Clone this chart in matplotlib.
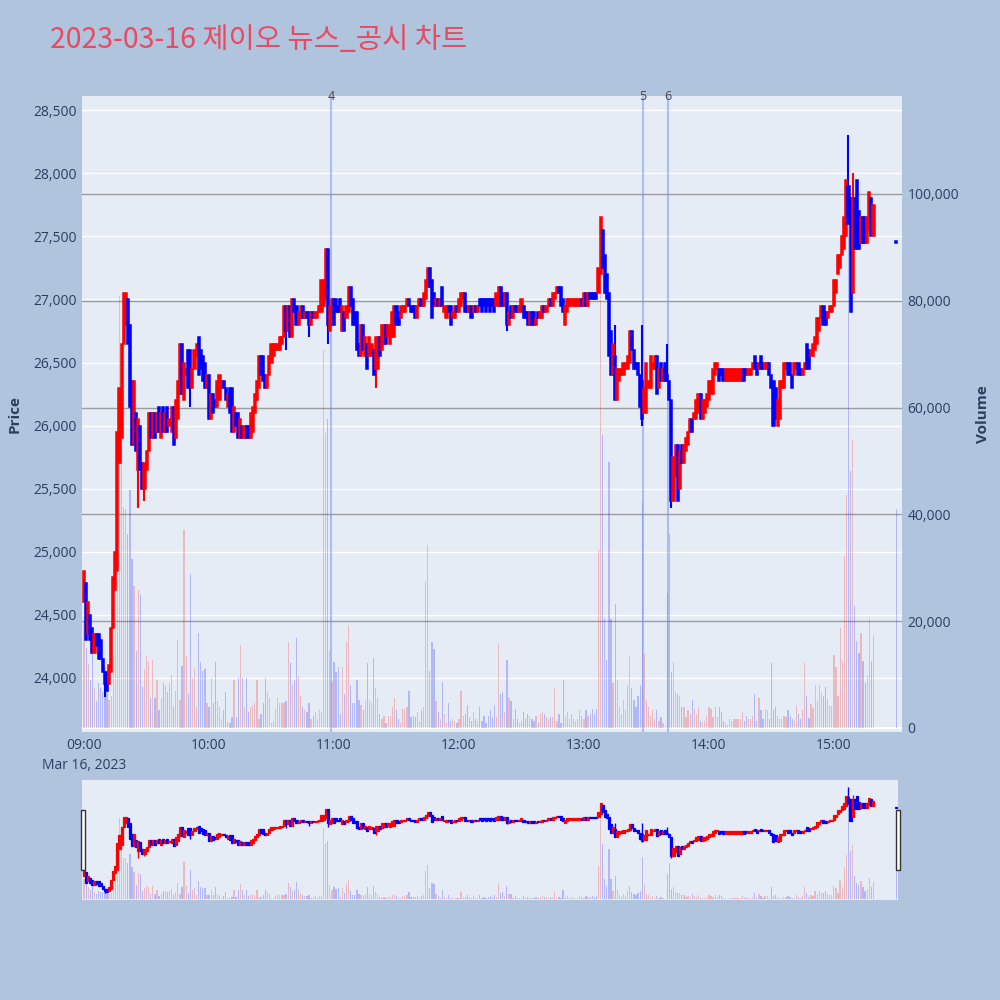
import matplotlib
matplotlib.use('Agg')
import matplotlib.pyplot as plt
import matplotlib.transforms as mtransforms
from matplotlib.patches import Rectangle
import numpy as np

plt.rcParams['font.family'] = ['Open Sans', 'DejaVu Sans']

# ---------------- data (1-minute candles, 09:00 -> 15:19) ----------------
opens = [
    24600, 24750, 24350, 24500, 24400, 24200, 24350, 24350, 24300, 24150,
    24050, 24050, 23950, 24050, 24400, 24700, 24850, 25700, 25900, 26650,
    26800, 27000, 26800, 26350, 25850, 26100, 25650, 26000, 25700, 25500,
    25650, 25800, 26100, 25900, 26100, 25950, 26150, 25900, 26150, 25950,
    26150, 26000, 25950, 26150, 25900, 26050, 26250, 26650, 26200, 26400,
    26600, 26600, 26300, 26450, 26550, 26700, 26600, 26550, 26500, 26300,
    26400, 26050, 26250, 26200, 26150, 26200, 26300, 26350, 26300, 26150,
    26300, 26300, 25950, 26100, 26100, 25900, 26000, 25900, 26000, 26000,
    25900, 25950, 26100, 26200, 26300, 26550, 26550, 26400, 26300, 26400,
    26500, 26550, 26600, 26600, 26600, 26650, 26700, 26950, 26750, 26950,
    26700, 27000, 26950, 26800, 26850, 26950, 26850, 26900, 26900, 26800,
    26900, 26850, 26850, 26900, 26900, 26950, 27000, 27400, 26750, 26800,
    27000, 27000, 26950, 27000, 26750, 26900, 26850, 26900, 27100, 27000,
    26900, 26900, 26650, 26550, 26800, 26550, 26650, 26550, 26550, 26600,
    26450, 26450, 26700, 26600, 26650, 26800, 26700, 26650, 26700, 26700,
    26950, 26900, 26850, 26900, 26900, 26950, 27000, 26950, 26950, 26950,
    26850, 26950, 27000, 26950, 27000, 27100, 27250, 27150, 27050, 26950,
    27000, 26950, 27100, 26900, 26850, 26950, 26950, 26850, 26850, 26950,
    26900, 26950, 27000, 27050, 26950, 26900, 26950, 26900, 26950, 26900,
    27000, 27000, 27000, 27000, 27000, 27000, 27000, 27000, 26950, 26950,
    27100, 27050, 26950, 27050, 26800, 26950, 26850, 26950, 26950, 26900,
    26900, 26950, 26900, 26900, 26800, 26900, 26900, 26800, 26900, 26850,
    26850, 26950, 26900, 26950, 27000, 26950, 27000, 27050, 27100, 27100,
    27000, 26800, 26900, 26950, 26950, 26950, 26950, 26950, 26950, 27000,
    26950, 27050, 26950, 27050, 27050, 27050, 27050, 27050, 27200, 27550,
    27350, 27200, 27050, 26750, 26400, 26550, 26200, 26350, 26400, 26400,
    26450, 26450, 26500, 26750, 26600, 26500, 26500, 26400, 26350, 26100,
    26100, 26300, 26300, 26450, 26450, 26550, 26300, 26500, 26350, 26500,
    26400, 26350, 26200, 25400, 25600, 25850, 25500, 25850, 25700, 25800,
    25850, 25950, 26050, 26050, 26050, 26100, 26250, 26050, 26100, 26150,
    26200, 26250, 26250, 26400, 26450, 26450, 26450, 26450, 26350, 26350,
    26350, 26350, 26350, 26350, 26350, 26350, 26350, 26450, 26450, 26400,
    26400, 26450, 26550, 26500, 26450, 26550, 26500, 26450, 26450, 26500,
    26400, 26350, 26300, 26000, 26050, 26300, 26300, 26450, 26500, 26500,
    26400, 26400, 26450, 26500, 26450, 26400, 26450, 26650, 26600, 26550,
    26550, 26600, 26650, 26750, 26850, 26950, 26900, 26850, 26900, 26900,
    26950, 27050, 27200, 27250, 27350, 27400, 27500, 27900, 27800, 27050,
    27800, 27950, 27700, 27450, 27650, 27650, 27450, 27550, 27800, 27500,
]
closes = [
    24850, 24300, 24600, 24300, 24200, 24350, 24250, 24150, 24150, 24050,
    23950, 23900, 24100, 24400, 24800, 25000, 25950, 26300, 26650, 27050,
    27050, 26650, 26150, 25850, 26350, 25800, 26050, 25650, 25500, 25700,
    25800, 26100, 25900, 26100, 25900, 26100, 25950, 26100, 25950, 26100,
    25950, 26050, 26150, 25850, 26200, 26350, 26650, 26250, 26500, 26450,
    26300, 26300, 26450, 26600, 26650, 26400, 26450, 26350, 26300, 26400,
    26050, 26250, 26100, 26150, 26350, 26400, 26350, 26300, 26200, 26250,
    26100, 25950, 26150, 26000, 25900, 26050, 25900, 26000, 25900, 25900,
    26100, 26150, 26250, 26350, 26550, 26400, 26350, 26300, 26400, 26550,
    26650, 26650, 26650, 26650, 26700, 26700, 26950, 26750, 26950, 26700,
    27000, 26900, 26800, 26900, 26950, 26850, 26900, 26850, 26800, 26900,
    26850, 26900, 26900, 26950, 27150, 27150, 27400, 26800, 26950, 27000,
    26800, 26900, 26900, 26900, 26950, 26750, 26950, 27100, 26950, 26800,
    26800, 26600, 26550, 26800, 26600, 26700, 26450, 26700, 26650, 26400,
    26700, 26700, 26550, 26800, 26800, 26650, 26800, 26800, 26900, 26950,
    26800, 26800, 26950, 26950, 26950, 27000, 26950, 26900, 26900, 26850,
    26950, 27000, 26950, 27050, 27150, 27250, 27100, 26850, 26950, 27000,
    26950, 27000, 26950, 26950, 26950, 26900, 26800, 26900, 26950, 26900,
    27000, 27050, 27050, 26900, 26900, 26950, 26850, 26950, 26900, 26950,
    26950, 26900, 26950, 26900, 26950, 26900, 26950, 26900, 27050, 27100,
    26950, 26950, 27050, 26800, 26900, 26850, 26950, 26900, 26900, 26950,
    27000, 26850, 26850, 26800, 26900, 26800, 26800, 26850, 26850, 26900,
    26950, 26900, 26950, 27000, 26950, 27050, 27050, 27100, 27050, 26950,
    26900, 26950, 27000, 27000, 27000, 27000, 27000, 27000, 27000, 26950,
    27050, 26950, 27050, 27000, 27000, 27000, 27000, 27250, 27650, 27250,
    27050, 27000, 26550, 26400, 26650, 26200, 26450, 26450, 26450, 26500,
    26500, 26550, 26750, 26600, 26450, 26450, 26400, 26150, 26050, 26300,
    26500, 26350, 26550, 26500, 26550, 26250, 26450, 26350, 26450, 26350,
    26350, 26200, 25400, 25750, 25850, 25400, 25800, 25700, 25850, 25900,
    25950, 26050, 25950, 26100, 26200, 26250, 26050, 26200, 26200, 26250,
    26350, 26350, 26450, 26500, 26500, 26350, 26400, 26350, 26450, 26450,
    26450, 26450, 26450, 26450, 26450, 26450, 26450, 26350, 26400, 26450,
    26450, 26500, 26450, 26400, 26500, 26450, 26450, 26500, 26500, 26400,
    26300, 26000, 26050, 26200, 26350, 26350, 26500, 26500, 26400, 26400,
    26300, 26500, 26500, 26400, 26400, 26450, 26500, 26450, 26450, 26600,
    26650, 26700, 26850, 26850, 26950, 26800, 26800, 26900, 26950, 26950,
    27150, 27150, 27350, 27350, 27500, 27650, 27950, 27600, 26900, 27800,
    27400, 27400, 27400, 27650, 27450, 27450, 27650, 27850, 27500, 27750,
]
volumes = [
    20000, 15000, 12000, 9000, 13800, 7400, 5000, 8400, 7400, 6700,
    11400, 8000, 5300, 6000, 13400, 28300, 54600, 80900, 52600, 41400,
    41100, 36400, 44500, 31600, 26600, 14400, 25900, 24900, 7700, 11100,
    13400, 12400, 5700, 12800, 5700, 9000, 3300, 5700, 8400, 8000,
    6700, 8400, 10000, 4000, 7000, 16500, 5300, 11700, 37000, 13400,
    6300, 28900, 9400, 11000, 4000, 17800, 12400, 10700, 11100, 4700,
    4000, 9400, 4700, 12400, 5000, 4000, 1600, 3300, 6700, 1300,
    1000, 2000, 9000, 2000, 9400, 15500, 9400, 4000, 9400, 3000,
    4000, 4300, 4700, 9000, 1600, 2600, 4700, 9400, 6700, 5700,
    1000, 1300, 3600, 5700, 4700, 4700, 4700, 5000, 16100, 12100,
    8000, 9000, 16800, 9700, 6000, 4000, 3300, 3000, 4700, 1600,
    2300, 3000, 1600, 3300, 3000, 70800, 55300, 57900, 14400, 8700,
    12400, 10400, 11400, 2600, 11400, 6300, 16100, 19200, 8000, 4700,
    4700, 9000, 5300, 4300, 3300, 5000, 12100, 5300, 4700, 13100,
    7400, 5700, 2600, 1600, 2300, 1000, 2300, 2300, 4000, 5700,
    3300, 1600, 1000, 3600, 3600, 4000, 7000, 2000, 2300, 2000,
    3000, 1300, 3300, 4000, 27600, 34300, 10700, 16100, 14800, 5000,
    3000, 1600, 8700, 2600, 1000, 4700, 1300, 1600, 1300, 1000,
    1600, 7000, 2300, 2600, 4300, 2000, 1300, 3000, 1600, 1300,
    4000, 1300, 2300, 1000, 2300, 3300, 2000, 4300, 2000, 15800,
    6300, 6700, 3000, 12800, 5700, 5000, 1600, 3600, 1600, 1000,
    1300, 3000, 1600, 2600, 2300, 1600, 1300, 2300, 1000, 2600,
    3000, 2600, 2000, 1600, 2000, 2000, 7400, 1300, 2600, 1000,
    9000, 2300, 3000, 1600, 2600, 1600, 1300, 1600, 3300, 2300,
    1600, 3300, 2300, 2600, 3600, 2600, 3600, 33300, 95000, 54900,
    20500, 12800, 49900, 20500, 8400, 23200, 9000, 4000, 2600, 5300,
    3300, 8000, 13400, 7400, 5300, 4000, 6000, 8000, 42100, 13800,
    5300, 4000, 2300, 3300, 1600, 3300, 1300, 2000, 1000, 300,
    25200, 36400, 10400, 12400, 6700, 6300, 6000, 4000, 4000, 2000,
    3300, 2600, 5300, 3600, 2600, 4000, 1300, 1000, 1300, 2300,
    4000, 3600, 2000, 4000, 2000, 4000, 3000, 1300, 1000, 600,
    1600, 1300, 1600, 1600, 1600, 1600, 3000, 1300, 2300, 1600,
    1600, 2300, 6300, 1300, 5700, 3300, 1600, 3600, 3300, 1600,
    12100, 3300, 4000, 2300, 1600, 1600, 2300, 2000, 3300, 2300,
    1600, 1300, 4300, 2600, 1600, 3300, 12100, 5900, 1900, 4400,
    3700, 8100, 5100, 8100, 6600, 5900, 7700, 5500, 4100, 4100,
    13600, 11400, 5900, 18800, 12500, 32300, 43700, 111000, 48100, 54000,
    22800, 16200, 14000, 17700, 12500, 8500, 9900, 20600, 12500, 17300,
]
wick_highs = {255: 26800, 268: 26800, 280: 26650, 367: 28300, 369: 28000}
wick_lows = {10: 23850, 26: 25350, 29: 25400, 51: 26150, 97: 26600, 108: 26700,
             117: 26650, 140: 26300, 203: 26750, 268: 26000, 282: 25350, 368: 26900}

# closing auction (15:30)
auction_minute = 390
auction_price = 27450
auction_volume = 41000

# news / disclosure events (minutes after 09:00)
event_minutes = [118.6, 268.4, 280.4]
event_labels = ['4', '5', '6']

tick_minutes = [0, 60, 120, 180, 240, 300, 360]
tick_labels = ['09:00', '10:00', '11:00', '12:00', '13:00', '14:00', '15:00']
price_ticks = [24000, 24500, 25000, 25500, 26000, 26500, 27000, 27500, 28000, 28500]
volume_ticks = [0, 20000, 40000, 60000, 80000, 100000]

title_text = '2023-03-16 제이오 뉴스_공시 차트'

# ---------------- derived ----------------
o = np.array(opens, dtype=float)
c = np.array(closes, dtype=float)
v = np.array(volumes, dtype=float)
t = np.arange(len(o))
hi = np.maximum(o, c)
lo = np.minimum(o, c)
for k, val in wick_highs.items():
    hi[k] = max(hi[k], val)
for k, val in wick_lows.items():
    lo[k] = min(lo[k], val)
up = c > o
RED, BLUE = '#FF0000', '#0000FF'
cand_col = np.where(up, RED, BLUE)
vol_col = [(1, 0, 0, 0.22) if u else (0, 0, 1, 0.22) for u in up]

P_LIM = (23572, 28612)
V_LIM = (-750, 118352)
TXT = '#2a3f5f'

fig = plt.figure(figsize=(10, 10), dpi=100, facecolor='#B0C4DE')


def draw_panel(axv, axp, body_w, wick_lw, edge_lw, vol_w, main=True):
    axv.set_facecolor('#E5ECF6')
    axp.patch.set_visible(False)
    axv.set_zorder(1)
    axp.set_zorder(2)
    axp.set_ylim(*P_LIM)
    axv.set_ylim(*V_LIM)
    for a in (axv, axp):
        for s in a.spines.values():
            s.set_visible(False)
    if main:
        btf = mtransforms.blended_transform_factory(axv.transAxes, axp.transData)
        for p in price_ticks:
            axv.plot([0, 1], [p, p], transform=btf, color='white', lw=1.0, zorder=0.5)
        for vv in volume_ticks[1:]:
            axv.axhline(vv, color='#9c9c9c', lw=1.0, zorder=0.8)
        axv.axhline(0, color='white', lw=1.5, zorder=0.8)
        for m in event_minutes:
            axv.axvline(m, color=(0.45, 0.55, 0.95, 0.5), lw=1.5, zorder=3)
    # volume bars
    axv.bar(t, v, width=vol_w, color=vol_col, linewidth=0, zorder=2)
    axv.bar([auction_minute], [auction_volume], width=vol_w,
            color=[(0, 0, 1, 0.22)], linewidth=0, zorder=2)
    # candles
    axp.vlines(t, lo, hi, colors=cand_col, linewidth=wick_lw, zorder=3)
    body_lo = np.minimum(o, c)
    body_h = np.maximum(np.abs(c - o), 12)
    axp.bar(t, body_h, bottom=body_lo, width=body_w, color=cand_col,
            edgecolor=cand_col, linewidth=edge_lw, zorder=4)
    axp.bar([auction_minute], [12], bottom=[auction_price], width=body_w,
            color=BLUE, edgecolor=BLUE, linewidth=edge_lw, zorder=4)


# ---------------- main chart ----------------
axv = fig.add_axes([0.082, 0.268, 0.820, 0.636])
axp = axv.twinx()
draw_panel(axv, axp, body_w=1.0, wick_lw=1.5, edge_lw=1.1, vol_w=0.6, main=True)
axv.set_xlim(-1, 392.7)

axp.yaxis.tick_left()
axp.yaxis.set_label_position('left')
axv.yaxis.tick_right()
axv.yaxis.set_label_position('right')
axp.set_yticks(price_ticks)
axp.set_yticklabels([f'{p:,}' for p in price_ticks])
axv.set_yticks(volume_ticks)
axv.set_yticklabels([f'{x:,}' for x in volume_ticks])
axv.set_xticks(tick_minutes)
axv.set_xticklabels(tick_labels)
axp.tick_params(axis='y', length=0, pad=4, labelsize=10, labelcolor=TXT)
axv.tick_params(axis='y', length=0, pad=4, labelsize=10, labelcolor=TXT)
axv.tick_params(axis='x', length=0, pad=4, labelsize=10, labelcolor=TXT)
axp.tick_params(axis='x', length=0)
axp.set_ylabel('Price', fontsize=11, color=TXT, fontweight='bold', labelpad=8)
axv.set_ylabel('Volume', fontsize=11, color=TXT, fontweight='bold', labelpad=12)
axv.grid(False)
axp.grid(False)

axv.text(0, -0.041, 'Mar 16, 2023', transform=mtransforms.blended_transform_factory(
    axv.transData, axv.transAxes), ha='center', va='top', fontsize=10, color=TXT)

ev_tf = mtransforms.blended_transform_factory(axv.transData, axv.transAxes)
for m, lab in zip(event_minutes, event_labels):
    axv.text(m, 1.0, lab, transform=ev_tf, ha='center', va='center',
             fontsize=9, color='#444444', zorder=6)

fig.text(0.05, 0.96, title_text, ha='left', va='center', fontsize=20.5,
         color='#E84A5F', family=['Noto Sans CJK KR', 'DejaVu Sans'])

# ---------------- range slider ----------------
sv = fig.add_axes([0.082, 0.10, 0.816, 0.12])
sp = sv.twinx()
draw_panel(sv, sp, body_w=1.0, wick_lw=1.0, edge_lw=0.9, vol_w=0.6, main=False)
sv.set_xlim(-1, 390.8)
for a in (sv, sp):
    a.set_xticks([])
    a.set_yticks([])

for hx in (0.0805, 0.8955):
    fig.patches.append(Rectangle((hx, 0.13), 0.0045, 0.06, transform=fig.transFigure,
                                 facecolor='white', edgecolor='#333333', lw=1.0, zorder=10))

fig.savefig('out.png', dpi=100, facecolor=fig.get_facecolor())
